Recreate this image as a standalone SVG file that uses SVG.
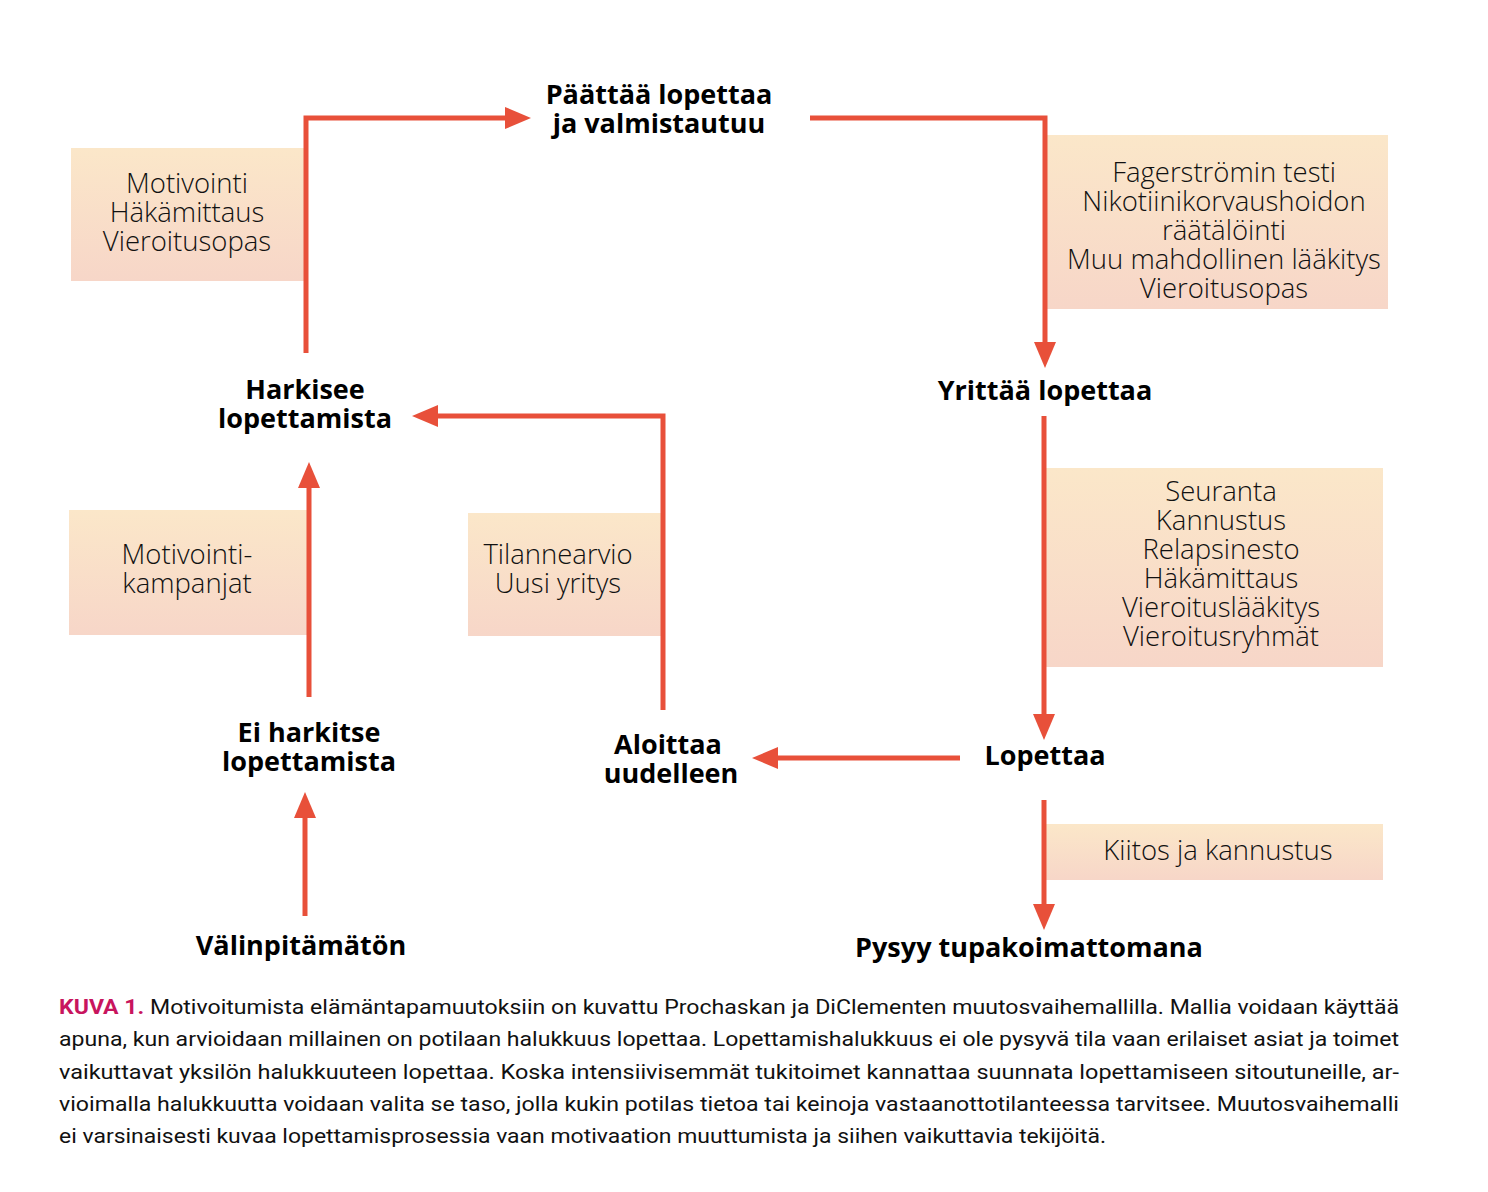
<svg xmlns="http://www.w3.org/2000/svg" width="1488" height="1192" viewBox="0 0 1488 1192">
<defs>
<linearGradient id="boxg" x1="0" y1="0" x2="0" y2="1">
<stop offset="0" stop-color="#FBE7C9"/>
<stop offset="1" stop-color="#F7D6C8"/>
</linearGradient>
<marker id="ah" markerUnits="userSpaceOnUse" viewBox="0 0 26 22" refX="0" refY="11" markerWidth="26" markerHeight="22" orient="auto">
<path d="M0,0 L26,11 L0,22 Z" fill="#E8503A"/>
</marker>
<style>
.box{fill:url(#boxg)}
.bt{font-family:"Open Sans","Noto Sans","Liberation Sans",sans-serif;font-weight:300;font-size:27.5px;fill:#111;text-anchor:middle}
.nt{font-family:"Open Sans","Noto Sans","Liberation Sans",sans-serif;font-weight:700;font-size:27px;fill:#000;text-anchor:middle}
.cn{fill:none;stroke:#E8503A;stroke-width:5;marker-end:url(#ah)}
.cap{font-family:"Liberation Sans Narrow","Roboto","Liberation Sans",sans-serif;font-size:21px;fill:#111}
.kuva{font-weight:700;fill:#C8155E}
</style>
</defs>
<rect width="1488" height="1192" fill="#fff"/>

<g id="box-motivointi">
<rect class="box" x="71" y="148" width="234" height="133"/>
<text class="bt" x="187" y="193">Motivointi</text>
<text class="bt" x="187" y="222">Häkämittaus</text>
<text class="bt" x="187" y="251">Vieroitusopas</text>
</g>
<g id="box-fagerstrom">
<rect class="box" x="1046" y="135" width="342" height="174"/>
<text class="bt" x="1224" y="182">Fagerströmin testi</text>
<text class="bt" x="1224" y="211">Nikotiinikorvaushoidon</text>
<text class="bt" x="1224" y="240">räätälöinti</text>
<text class="bt" x="1224" y="269">Muu mahdollinen lääkitys</text>
<text class="bt" x="1224" y="298">Vieroitusopas</text>
</g>
<g id="box-seuranta">
<rect class="box" x="1046" y="468" width="337" height="199"/>
<text class="bt" x="1221" y="501">Seuranta</text>
<text class="bt" x="1221" y="530">Kannustus</text>
<text class="bt" x="1221" y="559">Relapsinesto</text>
<text class="bt" x="1221" y="588">Häkämittaus</text>
<text class="bt" x="1221" y="617">Vieroituslääkitys</text>
<text class="bt" x="1221" y="646">Vieroitusryhmät</text>
</g>
<g id="box-kampanjat">
<rect class="box" x="69" y="510" width="238" height="125"/>
<text class="bt" x="187" y="564">Motivointi-</text>
<text class="bt" x="187" y="593">kampanjat</text>
</g>
<g id="box-tilannearvio">
<rect class="box" x="468" y="513" width="195" height="123"/>
<text class="bt" x="558" y="564">Tilannearvio</text>
<text class="bt" x="558" y="593">Uusi yritys</text>
</g>
<g id="box-kiitos">
<rect class="box" x="1046" y="824" width="337" height="56"/>
<text class="bt" x="1218" y="860">Kiitos ja kannustus</text>
</g>

<g id="connectors">
<path class="cn" d="M305,916 V818"/>
<path class="cn" d="M309,697 V488"/>
<path class="cn" d="M306,353 V118 H505"/>
<path class="cn" d="M810,118 H1045 V342"/>
<path class="cn" d="M1044,416 V714"/>
<path class="cn" d="M960,758 H778"/>
<path class="cn" d="M663,710 V416 H438"/>
<path class="cn" d="M1044,800 V904"/>
</g>

<g id="node-paattaa">
<text class="nt" x="659" y="104">Päättää lopettaa</text>
<text class="nt" x="659" y="133">ja valmistautuu</text>
</g>
<g id="node-harkisee">
<text class="nt" x="305" y="399">Harkisee</text>
<text class="nt" x="305" y="428">lopettamista</text>
</g>
<g id="node-yrittaa">
<text class="nt" x="1045" y="400">Yrittää lopettaa</text>
</g>
<g id="node-eiharkitse">
<text class="nt" x="309" y="742">Ei harkitse</text>
<text class="nt" x="309" y="771">lopettamista</text>
</g>
<g id="node-aloittaa">
<text class="nt" x="668" y="754">Aloittaa</text>
<text class="nt" x="671" y="783">uudelleen</text>
</g>
<g id="node-lopettaa">
<text class="nt" x="1045" y="765">Lopettaa</text>
</g>
<g id="node-valinpitamaton">
<text class="nt" x="301" y="955">Välinpitämätön</text>
</g>
<g id="node-pysyy">
<text class="nt" x="1029" y="957">Pysyy tupakoimattomana</text>
</g>

<g id="caption">
<text class="cap" x="59" y="1014" textLength="1340" lengthAdjust="spacingAndGlyphs"><tspan class="kuva">KUVA 1.</tspan> Motivoitumista elämäntapamuutoksiin on kuvattu Prochaskan ja DiClementen muutosvaihemallilla. Mallia voidaan käyttää</text>
<text class="cap" x="59" y="1046" textLength="1340" lengthAdjust="spacingAndGlyphs">apuna, kun arvioidaan millainen on potilaan halukkuus lopettaa. Lopettamishalukkuus ei ole pysyvä tila vaan erilaiset asiat ja toimet</text>
<text class="cap" x="59" y="1079" textLength="1340" lengthAdjust="spacingAndGlyphs">vaikuttavat yksilön halukkuuteen lopettaa. Koska intensiivisemmät tukitoimet kannattaa suunnata lopettamiseen sitoutuneille, ar-</text>
<text class="cap" x="59" y="1111" textLength="1340" lengthAdjust="spacingAndGlyphs">vioimalla halukkuutta voidaan valita se taso, jolla kukin potilas tietoa tai keinoja vastaanottotilanteessa tarvitsee. Muutosvaihemalli</text>
<text class="cap" x="59" y="1143" textLength="1047" lengthAdjust="spacingAndGlyphs">ei varsinaisesti kuvaa lopettamisprosessia vaan motivaation muuttumista ja siihen vaikuttavia tekijöitä.</text>
</g>
</svg>
